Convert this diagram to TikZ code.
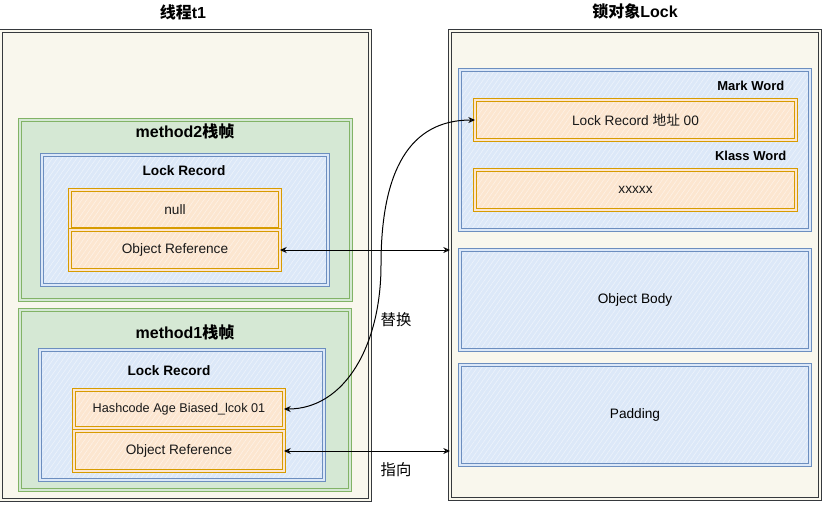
\documentclass[tikz,border=0pt]{standalone}
\usepackage{fontspec}
\setmainfont{Liberation Sans}
\newfontfamily\cjk{Noto Sans CJK SC}
\usetikzlibrary{positioning,arrows.meta,patterns.meta,shadows}

\definecolor{paper}{HTML}{F9F7ED}
\definecolor{edgegray}{HTML}{36393D}
\definecolor{greenfill}{HTML}{D5E8D4}
\definecolor{greenline}{HTML}{82B366}
\definecolor{bluefill}{HTML}{DCE8F8}
\definecolor{blueline}{HTML}{6C8EBF}
\definecolor{orangefill}{HTML}{FCE6D0}
\definecolor{orangeline}{HTML}{D79B00}

\begin{document}
\begin{tikzpicture}[
  x=0.75pt, y=-0.75pt,
  >={Stealth[open,length=5pt,width=4.5pt]},
  sz/.style 2 args={minimum width=#1*0.75pt, minimum height=#2*0.75pt, inner sep=0pt, outer sep=0pt},
  hatch/.style={preaction={fill=#1},
                pattern={Lines[angle=55,distance=3pt,line width=0.45pt]},
                pattern color=white!50!#1},
  panel/.style={draw=edgegray, fill=paper, line width=0.6pt, double=paper, double distance=1.5pt,
                drop shadow={opacity=0.2, shadow xshift=1.5pt, shadow yshift=-1.5pt}},
  frame/.style={draw=greenline, fill=greenfill, line width=0.6pt, double=greenfill, double distance=1.2pt},
  area/.style={draw=blueline, hatch=bluefill, line width=0.65pt, double=bluefill, double distance=1.2pt},
  slot/.style={draw=orangeline, hatch=orangefill, line width=0.85pt, double=orangefill, double distance=1.2pt,
               text=black!90, font=\fontsize{10.25}{12}\selectfont},
  title/.style={font=\bfseries\fontsize{12}{14}\selectfont},
  head/.style={font=\bfseries\fontsize{12}{14}\selectfont},
  sub/.style={font=\bfseries\fontsize{10.25}{12}\selectfont},
  tag/.style={font=\fontsize{11.5}{13}\selectfont}
]
  \useasboundingbox (0,0) rectangle (832,512);

  % titles
  \node[title] (t1title) at (183,12) {{\cjk 线程}t1};
  \node[title] (locktitle) at (635,11) {{\cjk 锁对象}Lock};

  % thread t1
  \node[panel, sz={369}{469}] (thread) at (185.5,265.5) {};
  \node[frame, sz={331}{180}] (frame2) at (185.5,210) {};
  \node[head] (frame2lbl) at (185,131) {method2{\cjk 栈帧}};
  \node[area, sz={286}{130}] (lr2) at (185,220) {};
  \node[sub] (lr2lbl) at (184,171) {Lock Record};
  \node[slot, sz={210}{39}] (null) at (175,209.5) {null};
  \node[slot, sz={210}{40}, below=0.75pt of null] (objref2) {Object Reference};

  \node[frame, sz={330}{180}] (frame1) at (185,400) {};
  \node[head] (frame1lbl) at (185,332) {method1{\cjk 栈帧}};
  \node[area, sz={284}{130}] (lr1) at (182,415) {};
  \node[sub] (lr1lbl) at (169,371) {Lock Record};
  \node[slot, sz={210}{38}, font=\fontsize{9.5}{12}\selectfont] (hash) at (179,409) {Hashcode Age Biased\_lcok 01};
  \node[slot, sz={210}{40}, below=2.25pt of hash] (objref1) {Object Reference};

  % lock object
  \node[panel, sz={370}{468}] (lockobj) at (635,265) {};
  \node[area, sz={350}{160}] (markword) at (635,150) {};
  \node[sub, font=\bfseries\fontsize{9.75}{12}\selectfont, anchor=east] (mwlbl) at (789,86) {Mark Word};
  \node[slot, sz={321}{40}] (lraddr) at (635.5,120) {Lock Record {\cjk 地址} 00};
  \node[sub, font=\bfseries\fontsize{9.75}{12}\selectfont, anchor=east] (kwlbl) at (791,156) {Klass Word};
  \node[slot, sz={321}{40}] (klass) at (635.5,190) {xxxxx};
  \node[area, sz={350}{100}, font=\fontsize{10.25}{12}\selectfont] (body) at (635,300) {Object Body};
  \node[area, sz={350}{100}, font=\fontsize{10.25}{12}\selectfont] (padding) at (635,415) {Padding};

  % links
  \coordinate (bend) at (381,265);
  \draw[<->, line width=0.75pt] (hash.east) .. controls +(61,0) and +(0,80) .. (bend)
        .. controls +(0,-95) and +(-65,0) .. (lraddr.west);
  \draw[<->, line width=0.75pt] (objref2.east) -- (objref2 -| lockobj.west);
  \draw[<->, line width=0.75pt] (objref1.east) -- (objref1 -| lockobj.west);
  \node[tag] (swap) at (396,320) {{\cjk 替换}};
  \node[tag] (point) at (396,470) {{\cjk 指向}};
\end{tikzpicture}
\end{document}
